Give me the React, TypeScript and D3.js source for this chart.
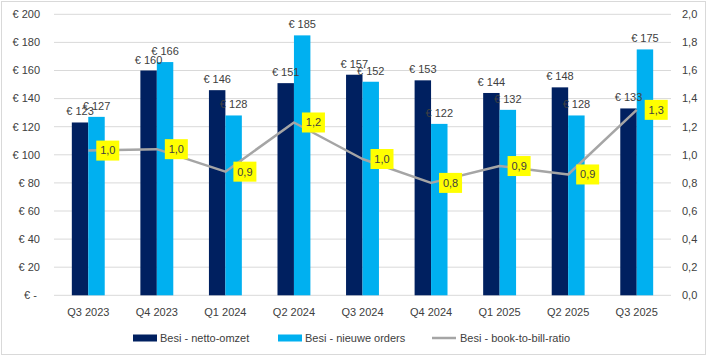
import React from "react";
import * as d3 from "d3";

const categories = ["Q3 2023", "Q4 2023", "Q1 2024", "Q2 2024", "Q3 2024", "Q4 2024", "Q1 2025", "Q2 2025", "Q3 2025"];
const nettoOmzet = [123, 160, 146, 151, 157, 153, 144, 148, 133];
const nieuweOrders = [127, 166, 128, 185, 152, 122, 132, 128, 175];
const bookToBill = [1.03, 1.04, 0.88, 1.23, 0.97, 0.8, 0.92, 0.86, 1.32];
const leftTicks = [0, 20, 40, 60, 80, 100, 120, 140, 160, 180, 200];
const rightTicks = [0, 0.2, 0.4, 0.6, 0.8, 1.0, 1.2, 1.4, 1.6, 1.8, 2.0];
const seriesNames = ["Besi - netto-omzet", "Besi - nieuwe orders", "Besi - book-to-bill-ratio"];

const W = 707;
const H = 358;
const plot = { left: 54, right: 671, top: 14.3, bottom: 295.3 };
const DARK = "#002060";
const LIGHT = "#00B0F0";
const GRAY = "#A5A5A5";
const FONT = "'Liberation Sans', Arial, sans-serif";
const TXT = "#404040";

export default function App() {
  const x = d3.scaleBand<string>().domain(categories).range([plot.left, plot.right]).paddingInner(0).paddingOuter(0);
  const yL = d3.scaleLinear().domain([0, 200]).range([plot.bottom, plot.top]);
  const yR = d3.scaleLinear().domain([0, 2]).range([plot.bottom, plot.top]);
  const bw = x.bandwidth();
  const groupW = bw * 0.48;
  const sub = d3.scaleBand<number>().domain([0, 1]).range([0, groupW]);
  const center = (c: string) => (x(c) as number) + bw / 2;

  const line = d3
    .line<number>()
    .x((_, i) => center(categories[i]))
    .y((d) => yR(d));

  const fmtEuro = (v: number) => (v === 0 ? "€ - " : `€ ${v}`);
  const fmtRatio = d3.format(".1f");
  const comma = (v: number) => fmtRatio(v).replace(".", ",");

  return (
    <div style={{ position: "fixed", left: 0, top: 0 }}>
      <svg width={W} height={H} style={{ display: "block", fontFamily: FONT }}>
        <rect x={0} y={0} width={W} height={H} fill="#fff" />
        <rect x={1.5} y={1.5} width={W - 3} height={H - 5} fill="none" stroke="#d9d9d9" strokeWidth={1} />
        {leftTicks.map((t) => (
          <g key={t}>
            <line x1={plot.left} x2={plot.right} y1={yL(t)} y2={yL(t)} stroke="#d9d9d9" strokeWidth={1} />
            <text x={40} y={yL(t)} dy="0.35em" textAnchor="end" fontSize={11} fill={TXT} style={{ whiteSpace: "pre" }}>
              {fmtEuro(t)}
            </text>
          </g>
        ))}
        {rightTicks.map((t) => (
          <text key={t} x={682} y={yR(t)} dy="0.35em" textAnchor="start" fontSize={11} fill={TXT}>
            {comma(t)}
          </text>
        ))}
        {categories.map((c, i) => {
          const gx = center(c) - groupW / 2;
          const vals = [nettoOmzet[i], nieuweOrders[i]];
          return (
            <g key={c}>
              {vals.map((v, j) => (
                <rect
                  key={j}
                  x={gx + (sub(j) as number)}
                  y={yL(v)}
                  width={sub.bandwidth()}
                  height={yL(0) - yL(v)}
                  fill={j === 0 ? DARK : LIGHT}
                />
              ))}
              <text x={center(c)} y={316} textAnchor="middle" fontSize={11} fill={TXT}>
                {c}
              </text>
            </g>
          );
        })}
        <path d={line(bookToBill) || ""} fill="none" stroke={GRAY} strokeWidth={2.5} strokeLinejoin="round" />
        {categories.map((c, i) => {
          const gx = center(c) - groupW / 2;
          const vals = [nettoOmzet[i], nieuweOrders[i]];
          return (
            <g key={c + "lab"}>
              {vals.map((v, j) => (
                <text
                  key={j}
                  x={gx + (sub(j) as number) + sub.bandwidth() / 2}
                  y={yL(v) - 7}
                  textAnchor="middle"
                  fontSize={11}
                  fill={TXT}
                >
                  {fmtEuro(v)}
                </text>
              ))}
            </g>
          );
        })}
        {categories.map((c, i) => {
          const px = center(c) + 8;
          const py = yR(bookToBill[i]);
          return (
            <g key={c + "r"}>
              <rect x={px} y={py - 10} width={23} height={20} fill="#FFFF00" />
              <text x={px + 11.5} y={py} dy="0.35em" textAnchor="middle" fontSize={11} fill={TXT}>
                {comma(bookToBill[i])}
              </text>
            </g>
          );
        })}
        <g fontSize={11} fill={TXT}>
          <rect x={133} y={334.5} width={24} height={7} fill={DARK} />
          <text x={160} y={338} dy="0.35em">{seriesNames[0]}</text>
          <rect x={278} y={334.5} width={24} height={7} fill={LIGHT} />
          <text x={305} y={338} dy="0.35em">{seriesNames[1]}</text>
          <line x1={432} x2={456} y1={338} y2={338} stroke={GRAY} strokeWidth={2.5} />
          <text x={460} y={338} dy="0.35em">{seriesNames[2]}</text>
        </g>
      </svg>
    </div>
  );
}
